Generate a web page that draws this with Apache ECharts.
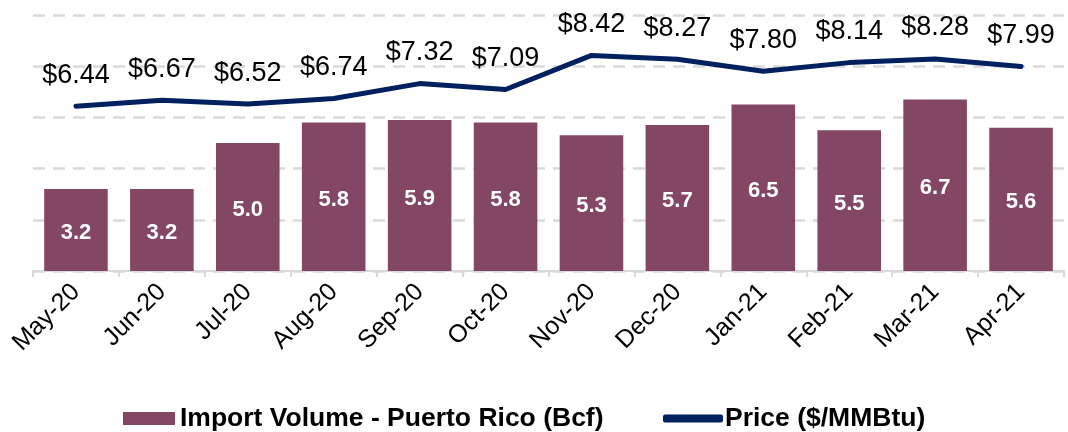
<!DOCTYPE html>
<html>
<head>
<meta charset="utf-8">
<script src="https://cdn.jsdelivr.net/npm/echarts@6/dist/echarts.min.js"></script>
<style>
  html, body { margin: 0; padding: 0; background: #fff; }
  #chart { width: 1068px; height: 432px; }
</style>
</head>
<body>
<div id="chart"></div>
<script>
const months = ['May-20', 'Jun-20', 'Jul-20', 'Aug-20', 'Sep-20', 'Oct-20',
    'Nov-20', 'Dec-20', 'Jan-21', 'Feb-21', 'Mar-21', 'Apr-21'];
const importVolume = [3.2, 3.2, 5.0, 5.8, 5.9, 5.8, 5.3, 5.7, 6.5, 5.5, 6.7, 5.6];
const price = [6.44, 6.67, 6.52, 6.74, 7.32, 7.09, 8.42, 8.27, 7.80, 8.14, 8.28, 7.99];
const yTicks = [0, 2, 4, 6, 8, 10];

const font = 'Liberation Sans, Arial, sans-serif';
const legendText = {
    fontFamily: font,
    fontWeight: 'bold',
    fontSize: 26.5,
    color: '#000'
};

echarts.init(document.querySelector('#chart')).setOption({
    animation: false,
    grid: { left: 33, right: 4, top: 15, bottom: 161 },
    // two legends so each icon can have its own size
    legend: [{
        left: 118,
        top: 400,
        itemWidth: 52,
        itemHeight: 13,
        textStyle: legendText,
        data: [{ name: 'Import Volume - Puerto Rico (Bcf)', icon: 'rect' }]
    }, {
        left: 658,
        top: 400,
        itemWidth: 60,
        itemHeight: 8,
        textStyle: Object.assign({ padding: [0, 0, 0, -3] }, legendText),
        data: [{ name: 'Price ($/MMBtu)', icon: 'roundRect', itemStyle: { color: '#002060' } }]
    }],
    xAxis: {
        type: 'category',
        data: months,
        axisLine: { lineStyle: { color: '#d9d9d9', width: 2 } },
        axisTick: { show: true, length: 6, lineStyle: { color: '#d9d9d9', width: 2 } },
        axisLabel: {
            interval: 0,
            rotate: 45,
            margin: 17,
            fontFamily: font,
            fontSize: 25,
            color: '#000'
        }
    },
    yAxis: {
        type: 'value',
        min: yTicks[0],
        max: yTicks[yTicks.length - 1],
        interval: 2,
        axisLabel: { show: false },
        axisLine: { show: false },
        axisTick: { show: false },
        splitLine: {
            lineStyle: { color: '#d9d9d9', width: 2.5, type: [12, 8] }
        }
    },
    series: [{
        name: 'Import Volume - Puerto Rico (Bcf)',
        type: 'bar',
        data: importVolume,
        barCategoryGap: '26%',
        itemStyle: { color: '#844665' },
        label: {
            show: true,
            position: 'inside',
            offset: [0, 3],
            formatter: p => p.value.toFixed(1),
            fontFamily: font,
            fontWeight: 'bold',
            fontSize: 22,
            color: '#fff'
        }
    }, {
        name: 'Price ($/MMBtu)',
        type: 'line',
        data: price,
        symbol: 'circle',
        symbolSize: 1,
        showSymbol: true,
        lineStyle: { color: '#002060', width: 5, cap: 'round', join: 'round' },
        itemStyle: { color: '#002060' },
        label: {
            show: true,
            position: 'top',
            distance: 17,
            formatter: p => '$' + p.value.toFixed(2),
            fontFamily: font,
            fontSize: 27,
            color: '#000'
        }
    }]
});
</script>
</body>
</html>
